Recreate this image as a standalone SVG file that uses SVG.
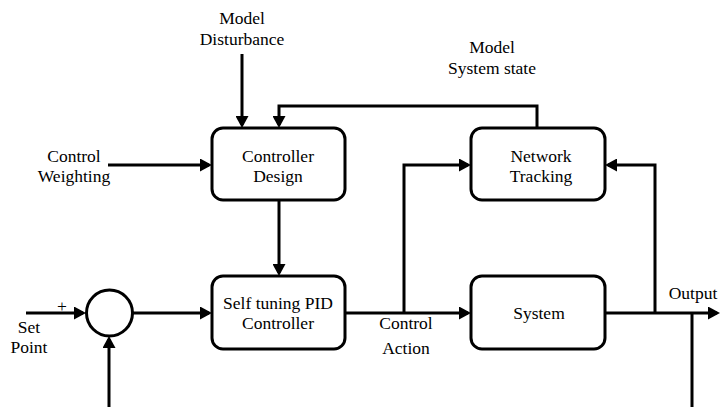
<svg xmlns="http://www.w3.org/2000/svg" width="720" height="407" viewBox="0 0 720 407">
<style>
.box{fill:#fff;stroke:#000;stroke-width:3}
.ln{fill:none;stroke:#000;stroke-width:3;stroke-linecap:butt;stroke-linejoin:miter}
.arr{marker-end:url(#ah)}
.t{font-family:'Liberation Serif','DejaVu Serif',serif;font-size:17.5px;fill:#000;text-anchor:middle}
</style>
<defs>
<marker id="ah" markerUnits="userSpaceOnUse" markerWidth="13" markerHeight="13" refX="9" refY="6.5" orient="auto">
<path d="M0,0 L12,6.5 L0,13 z" fill="#000"/>
</marker>
</defs>
<g id="connectors">
<path class="ln arr" d="M242,54 V125"/>
<path class="ln arr" d="M537,128 V106 H279 V125"/>
<path class="ln arr" d="M108,165 H209"/>
<path class="ln arr" d="M279,200 V273"/>
<path class="ln arr" d="M26,313 H83"/>
<path class="ln arr" d="M132,313 H209"/>
<path class="ln arr" d="M109,407 V339"/>
<path class="ln arr" d="M345,313 H468"/>
<path class="ln arr" d="M404,313 V165 H468"/>
<path class="ln arr" d="M605,313 H717"/>
<path class="ln arr" d="M655,313 V165 H608"/>
<path class="ln" d="M692,313 V407"/>
</g>
<g id="controller-design" class="t">
<rect class="box" x="212" y="128" width="133" height="72" rx="11"/>
<text x="278" y="162">Controller</text>
<text x="278" y="182">Design</text>
</g>
<g id="network-tracking" class="t">
<rect class="box" x="471" y="128" width="134" height="72" rx="11"/>
<text x="541" y="162">Network</text>
<text x="541" y="182">Tracking</text>
</g>
<g id="pid" class="t">
<rect class="box" x="212" y="276" width="133" height="73" rx="11"/>
<text x="278" y="309">Self tuning PID</text>
<text x="278" y="329">Controller</text>
</g>
<g id="system" class="t">
<rect class="box" x="471" y="276" width="134" height="73" rx="11"/>
<text x="539" y="319">System</text>
</g>
<g id="sum">
<circle cx="109.5" cy="313" r="23" fill="#fff" stroke="#000" stroke-width="3"/>
</g>
<g id="labels" class="t">
<text x="242" y="24">Model</text>
<text x="242" y="45">Disturbance</text>
<text x="492" y="53">Model</text>
<text x="492" y="74">System state</text>
<text x="74" y="162">Control</text>
<text x="74" y="182">Weighting</text>
<text x="62" y="312">+</text>
<text x="29" y="333">Set</text>
<text x="29" y="353">Point</text>
<text x="406" y="329">Control</text>
<text x="406" y="354">Action</text>
<text x="693" y="299">Output</text>
</g>
</svg>
